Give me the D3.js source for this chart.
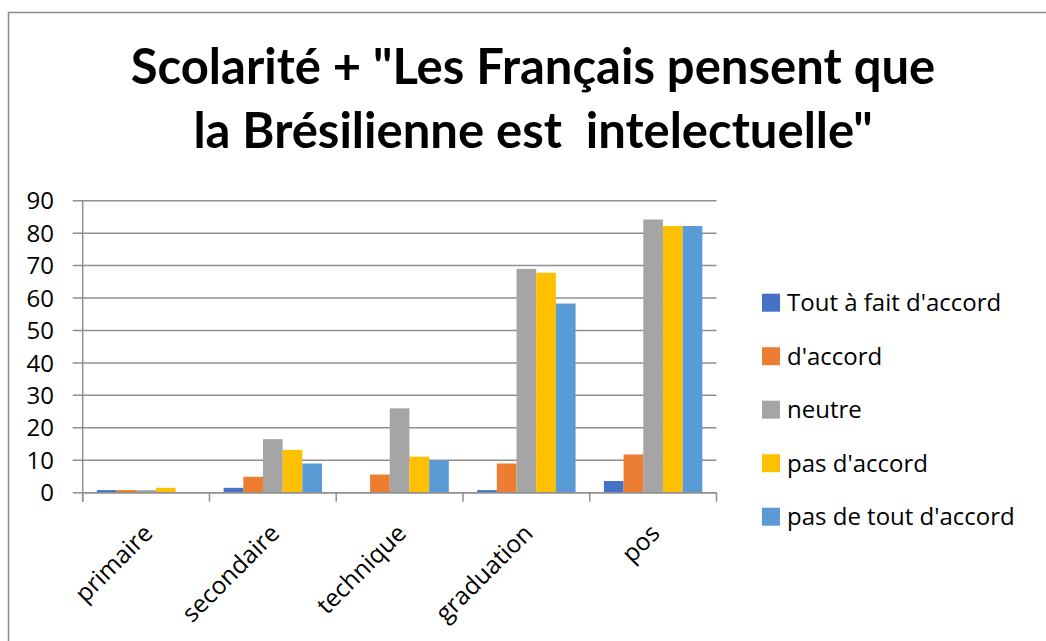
<!DOCTYPE html>
<html>
<head>
<meta charset="utf-8">
<script src="https://cdn.jsdelivr.net/npm/d3@7"></script>
<style>
  html, body { margin: 0; padding: 0; background: #fff; }
  svg { display: block; font-family: "Open Sans", Lato, sans-serif; }
</style>
</head>
<body>
<svg id="chart" width="1046" height="641"></svg>
<script>
// chart data
const categories = ['primaire', 'secondaire', 'technique', 'graduation', 'pos'];
const series = ["Tout à fait d'accord", "d'accord", 'neutre', "pas d'accord", "pas de tout d'accord"];
const toutAFait = [0.8, 1.5, 0, 0.8, 3.6];
const dAccord = [0.8, 4.9, 5.6, 9.0, 11.8];
const neutre = [0.8, 16.5, 26, 69, 84.2];
const pasDAccord = [1.5, 13.2, 11.1, 67.8, 82.2];
const pasDeTout = [0, 9.0, 9.9, 58.3, 82.2];
const yTicks = [0, 10, 20, 30, 40, 50, 60, 70, 80, 90];
const titleLines = ['Scolarité + "Les Français pensent que', 'la Brésilienne est\u00a0 intelectuelle"'];

const values = [toutAFait, dAccord, neutre, pasDAccord, pasDeTout];
const colors = ['#4472C4', '#ED7D31', '#A5A5A5', '#FFC000', '#5B9BD5'];

const svg = d3.select('#chart');

// outer frame (only top/left edges visible in the crop)
svg.append('rect')
    .attr('x', 8.5).attr('y', 12.5).attr('width', 1100).attr('height', 700)
    .attr('fill', 'none').attr('stroke', '#8c8c8c').attr('stroke-width', 1.5);

// title
svg.append('g').selectAll('text').data(titleLines).join('text')
    .attr('x', 533)
    .attr('y', (d, i) => 84 + i * 64)
    .attr('text-anchor', 'middle')
    .attr('font-family', 'Lato, sans-serif')
    .attr('font-size', 49)
    .attr('font-weight', 700)
    .attr('fill', '#000')
    .style('white-space', 'pre')
    .text(d => d);

const plotL = 82.7, plotR = 716.5, plotT = 200.7, plotB = 492.7;

const y = d3.scaleLinear().domain([0, 90]).range([plotB, plotT]);
const x0 = d3.scaleBand().domain(categories).range([plotL, plotR]);
const x1 = d3.scaleBand().domain(series).range([0, x0.bandwidth()]).paddingOuter(0.72);

// gridlines (extend left as tick marks)
svg.append('g').selectAll('line').data(yTicks).join('line')
    .attr('x1', plotL - 10).attr('x2', plotR)
    .attr('y1', d => y(d)).attr('y2', d => y(d))
    .attr('stroke', '#8f8f8f').attr('stroke-width', 1.5);

// y labels
svg.append('g').selectAll('text').data(yTicks).join('text')
    .attr('x', 54).attr('y', d => y(d)).attr('dy', '0.36em')
    .attr('text-anchor', 'end').attr('font-size', 24).attr('fill', '#000')
    .text(d => d);

// bars
const groups = svg.append('g').selectAll('g').data(categories).join('g')
    .attr('transform', d => `translate(${x0(d)},0)`);

groups.selectAll('rect')
    .data((c, ci) => series.map((s, si) => ({ s, si, v: values[si][ci] })))
    .join('rect')
    .attr('x', d => x1(d.s))
    .attr('width', x1.bandwidth())
    .attr('y', d => y(d.v))
    .attr('height', d => plotB - y(d.v))
    .attr('fill', d => colors[d.si]);

// axes lines
svg.append('line').attr('x1', plotL).attr('x2', plotL).attr('y1', plotT).attr('y2', plotB + 9)
    .attr('stroke', '#8f8f8f').attr('stroke-width', 1.5);
svg.append('line').attr('x1', plotL).attr('x2', plotR).attr('y1', plotB).attr('y2', plotB)
    .attr('stroke', '#8f8f8f').attr('stroke-width', 1.5);
svg.append('g').selectAll('line').data(categories.map(c => x0(c)).concat([plotR])).join('line')
    .attr('x1', d => d).attr('x2', d => d).attr('y1', plotB).attr('y2', plotB + 9)
    .attr('stroke', '#8f8f8f').attr('stroke-width', 1.5);

// x labels
svg.append('g').selectAll('text').data(categories).join('text')
    .attr('transform', d => `translate(${x0(d) + x0.bandwidth() / 2 + 2},${plotB + 36}) rotate(-45)`)
    .attr('text-anchor', 'end').attr('dy', '0.35em')
    .attr('font-size', 24.5).attr('fill', '#000')
    .text(d => d);

// legend
const legend = svg.append('g').selectAll('g').data(series).join('g')
    .attr('transform', (d, i) => `translate(762,${302.7 + i * 53.5})`);
legend.append('rect').attr('x', 0).attr('y', -9).attr('width', 18).attr('height', 18)
    .attr('fill', (d, i) => colors[i]);
legend.append('text').attr('x', 25).attr('dy', '0.36em')
    .attr('font-size', 24).attr('fill', '#000').text(d => d);
</script>
</body>
</html>
